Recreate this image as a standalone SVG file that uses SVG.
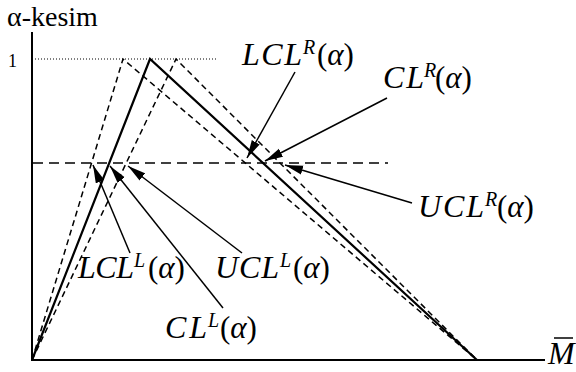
<svg xmlns="http://www.w3.org/2000/svg" width="576" height="372" viewBox="0 0 576 372" font-family="'Liberation Serif', 'Times New Roman', serif">
<defs>
<style>
.ax{stroke:#000;stroke-width:2;fill:none}
.sol{stroke:#000;stroke-width:2.2;fill:none;stroke-linejoin:miter}
.dsh{stroke:#000;stroke-width:1.5;fill:none;stroke-dasharray:6,4}
.hd{stroke:#000;stroke-width:1.7;fill:none;stroke-dasharray:10,6}
.dot{stroke:#000;stroke-width:1.2;fill:none;stroke-dasharray:1,2}
.arr{stroke:#000;stroke-width:1.5;fill:none;marker-end:url(#ah)}
text{font-family:'Liberation Serif','Times New Roman',serif;fill:#000}
.m{font-size:32px;font-style:italic}
.s{font-size:20px;font-style:italic}
.p{font-size:31px}
.it{font-style:italic}
</style>
<marker id="ah" markerUnits="userSpaceOnUse" markerWidth="20" markerHeight="10" refX="18" refY="5" orient="auto">
<path d="M0,0.5 L18,5 L0,9.5 Z" fill="#000"/>
</marker>
</defs>
<g id="axes">
<line class="ax" x1="32" y1="32" x2="32" y2="361"/>
<line class="ax" x1="31" y1="360" x2="545" y2="360"/>
<line class="dot" x1="35" y1="59" x2="217" y2="59"/>
<line class="hd" x1="33" y1="163" x2="388" y2="163"/>
<text x="7" y="26" font-size="28">α-kesim</text>
<text x="8" y="67" font-size="18">1</text>
<text x="548" y="364" class="m">M</text>
<line x1="554" y1="338" x2="573" y2="338" stroke="#000" stroke-width="1.5"/>
</g>
<g id="curves">
<polyline class="sol" points="32,360 150,59 477,360"/>
<polyline class="dsh" points="32,360 123,59 477,360"/>
<polyline class="dsh" points="32,360 176,59 477,360"/>
</g>
<g id="connectors">
<line class="arr" x1="295" y1="72" x2="247" y2="158"/>
<line class="arr" x1="387" y1="98" x2="265" y2="161"/>
<line class="arr" x1="412" y1="203" x2="285" y2="165"/>
<line class="arr" x1="130" y1="253" x2="93" y2="165"/>
<line class="arr" x1="223" y1="308" x2="110" y2="166"/>
<line class="arr" x1="242" y1="253" x2="128" y2="166"/>
</g>
<g id="LCLR">
<text x="242" y="65" class="m" textLength="60" lengthAdjust="spacing">LCL</text>
<text x="303" y="54" class="s">R</text>
<text x="317" y="65" class="p">(<tspan class="it">α</tspan>)</text>
</g>
<g id="CLR">
<text x="383" y="88" class="m" textLength="41" lengthAdjust="spacing">CL</text>
<text x="424" y="77" class="s">R</text>
<text x="435" y="88" class="p">(<tspan class="it">α</tspan>)</text>
</g>
<g id="UCLR">
<text x="418" y="217" class="m" textLength="66" lengthAdjust="spacing">UCL</text>
<text x="485" y="206" class="s">R</text>
<text x="497" y="217" class="p">(<tspan class="it">α</tspan>)</text>
</g>
<g id="LCLL">
<text x="78" y="278" class="m" textLength="56" lengthAdjust="spacing">LCL</text>
<text x="134" y="267" class="s">L</text>
<text x="148" y="278" class="p">(<tspan class="it">α</tspan>)</text>
</g>
<g id="UCLL">
<text x="215" y="278" class="m" textLength="64" lengthAdjust="spacing">UCL</text>
<text x="280" y="267" class="s">L</text>
<text x="293" y="278" class="p">(<tspan class="it">α</tspan>)</text>
</g>
<g id="CLL">
<text x="165" y="338" class="m" textLength="42" lengthAdjust="spacing">CL</text>
<text x="208" y="327" class="s">L</text>
<text x="220" y="338" class="p">(<tspan class="it">α</tspan>)</text>
</g>
</svg>
